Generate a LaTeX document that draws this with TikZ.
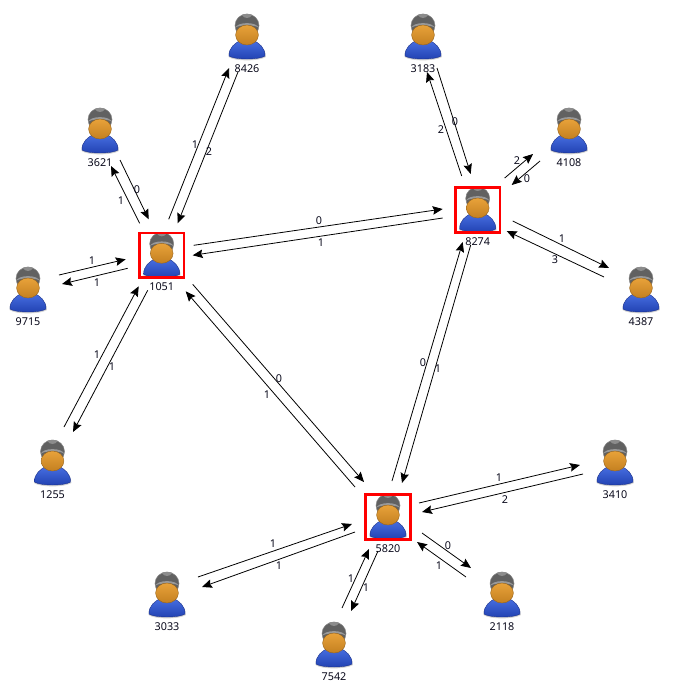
\documentclass[tikz,border=0pt]{standalone}
\usepackage{fontspec}
\setmainfont{Noto Sans}
\usetikzlibrary{arrows.meta}
\definecolor{inkc}{HTML}{0A0A1C}
\tikzset{
  x=1pt,y=-1pt,
  conn/.style={draw=black,line width=0.8pt,-{Stealth[length=10pt,width=8.5pt,inset=1.5pt]}},
  elab/.style={font=\fontsize{10.8}{12}\selectfont,text=inkc,inner sep=0pt},
  uname/.style={font=\fontsize{10.8}{12}\selectfont,text=inkc,inner sep=0pt},
  anchorbox/.style={inner sep=0pt,minimum size=47pt,shape=rectangle},
  redbox/.style={inner sep=0pt,minimum size=44.5pt,shape=rectangle,draw=red,line width=2.8pt},
  capc/.style={fill=black!62,draw=black!48,line width=0.5pt},
}
\newcommand{\usericon}[2]{%
  \begin{scope}[shift={(#1,#2)}]
    \fill[black!18] (-18.5,20) .. controls (-19,12) and (-12,7) .. (-5,4) -- (5,4)
       .. controls (12,7) and (19,12) .. (18.8,20)
       .. controls (12,24.5) and (-12,24.5) .. (-18.5,20) -- cycle;
    \shade[top color={rgb,255:red,72;green,112;blue,226},bottom color={rgb,255:red,32;green,64;blue,176},
           draw={rgb,255:red,28;green,50;blue,140},line width=0.4pt]
       (-18,19) .. controls (-18.5,11) and (-12,6) .. (-6,3) -- (6,3)
       .. controls (12,6) and (18.5,11) .. (18,19)
       .. controls (12,23) and (-12,23) .. (-18,19) -- cycle;
    \fill[capc] (0,-11.5) ellipse [x radius=12,y radius=11.5];
    \fill[black!40] (-11.8,-9) .. controls (-10,-15.5) and (10,-15.5) .. (11.8,-9)
       .. controls (10,-12.5) and (-10,-12.5) .. (-11.8,-9) -- cycle;
    \fill[black!45] (-5,-22) .. controls (-3,-18) and (3,-18) .. (5,-22)
       .. controls (2,-23.5) and (-2,-23.5) .. (-5,-22) -- cycle;
    \shade[top color={rgb,255:red,232;green,162;blue,58},bottom color={rgb,255:red,196;green,128;blue,32},
           draw={rgb,255:red,150;green,100;blue,30},line width=0.4pt]
       (0,-2) ellipse [x radius=11.4,y radius=10];
  \end{scope}}
\newcommand{\plainuser}[3]{%
  \usericon{#2}{#3}
  \node[anchorbox] (n#1) at (#2,#3) {};
  \node[uname] (t#1) at (#2,#3+31.5) {#1};}
\newcommand{\hubuser}[3]{%
  \usericon{#2}{#3}
  \node[redbox] (n#1) at (#2,#3) {};
  \node[uname] (t#1) at (#2,#3+31.5) {#1};}
\newcommand{\flow}[4]{%
  \draw[conn] ([shift={(#3)}]n#1.center) -- ([shift={(#4)}]n#2.center);}
\begin{document}
\begin{tikzpicture}
\useasboundingbox (0,0) rectangle (693,696);
\fill[white] (0,0) rectangle (693,696);
\plainuser{8426}{247}{37}
\plainuser{3183}{423}{37}
\plainuser{4108}{569}{131}
\plainuser{3621}{100}{131}
\hubuser{8274}{477.7}{210}
\hubuser{1051}{161.7}{255.3}
\plainuser{9715}{28}{290}
\plainuser{4387}{641}{290}
\plainuser{1255}{52.5}{463}
\plainuser{3410}{615}{463}
\hubuser{5820}{388}{517}
\plainuser{3033}{167}{595}
\plainuser{2118}{502}{595}
\plainuser{7542}{334}{645}
\flow{3621}{1051}{20,29}{-13,-36}
\flow{1051}{3621}{-22,-32}{11,35}
\flow{1051}{8426}{7,-36}{-18,31}
\flow{8426}{1051}{-9,35}{16,-32}
\flow{9715}{1051}{31,-15}{-36,4}
\flow{1051}{9715}{-34,13}{34,-6}
\flow{1051}{1255}{-14,35}{20.5,-31}
\flow{1255}{1051}{11.5,-36}{-23,31}
\flow{1051}{8274}{32,-10}{-35,-1}
\flow{8274}{1051}{-35,8}{31,0}
\flow{1051}{5820}{31,29}{-24,-35}
\flow{5820}{1051}{-33,-30}{24,36}
\flow{5820}{8274}{4,-36}{-15,32}
\flow{8274}{5820}{-7,35}{14,-34}
\flow{3183}{8274}{14,31}{-7,-36}
\flow{8274}{3183}{-16,-34}{4,35}
\flow{8274}{4108}{27,-32}{-36,23}
\flow{4108}{8274}{-29,30}{34,-25}
\flow{8274}{4387}{35,11}{-32,-22}
\flow{4387}{8274}{-37,-13}{29,21}
\flow{5820}{3410}{31,-14}{-35,2}
\flow{3410}{5820}{-32,11}{34,-5}
\flow{5820}{2118}{34,16}{-31,-27}
\flow{2118}{5820}{-36,-18}{29,25}
\flow{3033}{5820}{31,-18}{-36,7}
\flow{5820}{3033}{-33,15}{35,-8}
\flow{7542}{5820}{8,-37}{-19,32}
\flow{5820}{7542}{-10,34}{17,-34}
\node[elab] (l1) at (137,190) {0};
\node[elab] (l2) at (121,201) {1};
\node[elab] (l3) at (195,145) {1};
\node[elab] (l4) at (209,152) {2};
\node[elab] (l5) at (92,261) {1};
\node[elab] (l6) at (97,283) {1};
\node[elab] (l7) at (112,367) {1};
\node[elab] (l8) at (97,355) {1};
\node[elab] (l9) at (319,221) {0};
\node[elab] (l10) at (321,243) {1};
\node[elab] (l11) at (279,379) {0};
\node[elab] (l12) at (267,395) {1};
\node[elab] (l13) at (423,363) {0};
\node[elab] (l14) at (438,369) {1};
\node[elab] (l15) at (455,122) {0};
\node[elab] (l16) at (441,130) {2};
\node[elab] (l17) at (517,161) {2};
\node[elab] (l18) at (527,179) {0};
\node[elab] (l19) at (562,239) {1};
\node[elab] (l20) at (555,260) {3};
\node[elab] (l21) at (499,478) {1};
\node[elab] (l22) at (505,500) {2};
\node[elab] (l23) at (448,546) {0};
\node[elab] (l24) at (439,566) {1};
\node[elab] (l25) at (273,544) {1};
\node[elab] (l26) at (279,566) {1};
\node[elab] (l27) at (351,579) {1};
\node[elab] (l28) at (366,588) {1};
\end{tikzpicture}
\end{document}
